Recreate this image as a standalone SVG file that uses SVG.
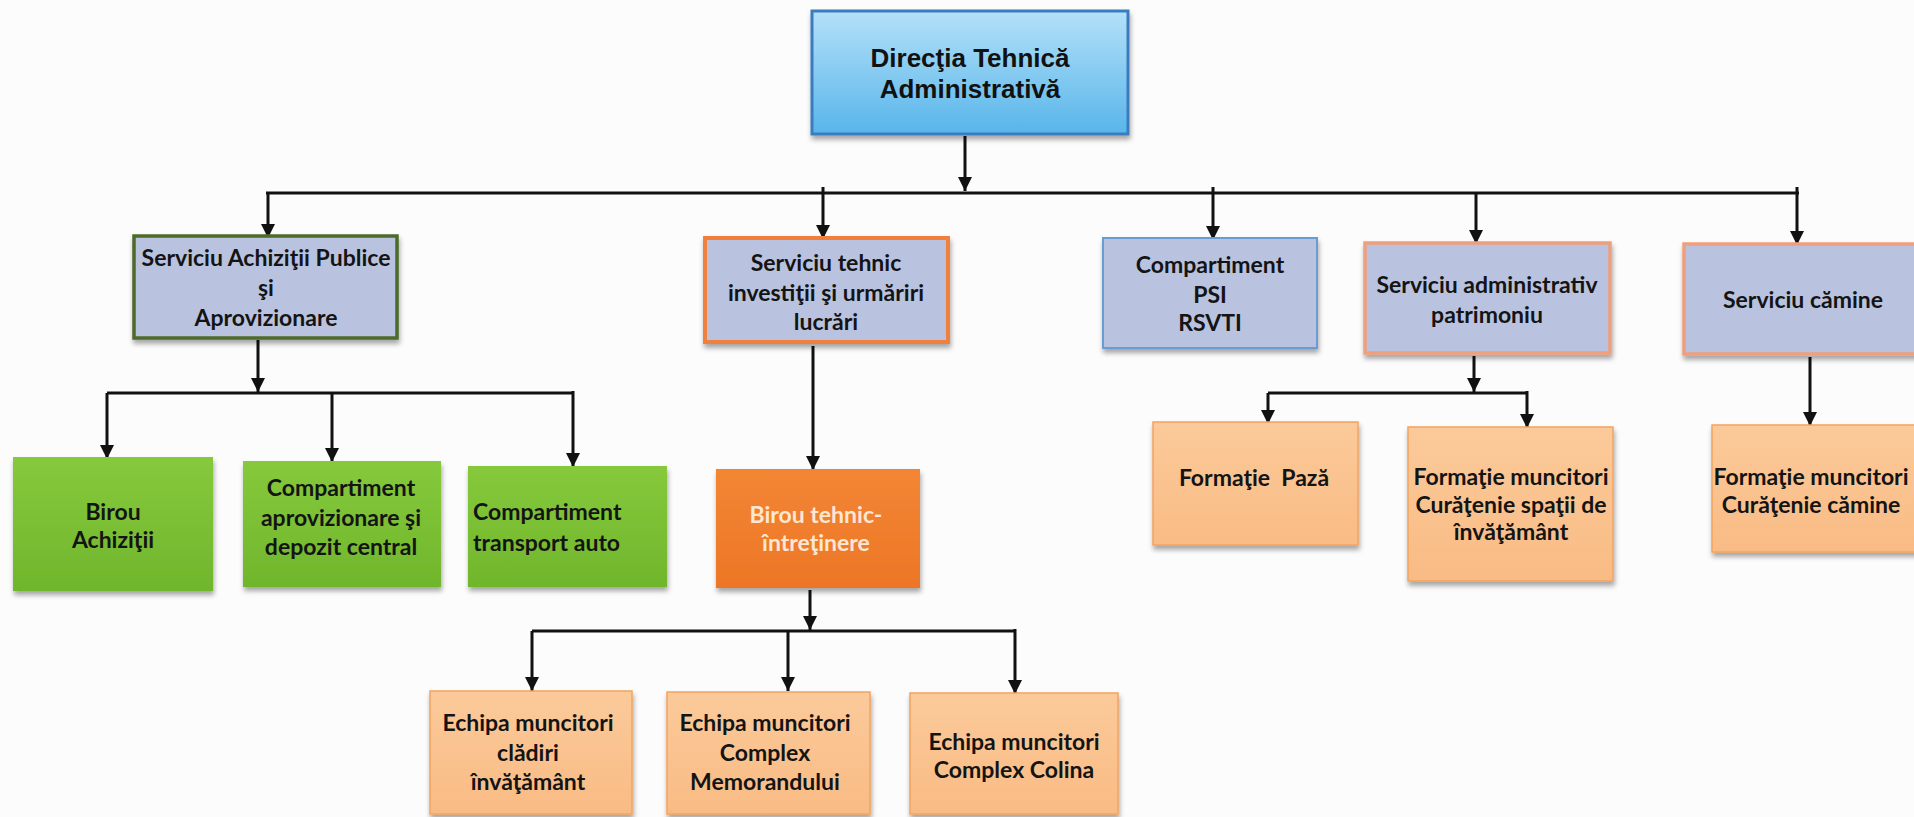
<svg xmlns="http://www.w3.org/2000/svg" width="1914" height="817" viewBox="0 0 1914 817">
<defs>
<style>
.t{font-family:Lato,"Open Sans","Liberation Sans",sans-serif;font-weight:bold;font-size:23px;fill:#141414;text-anchor:middle}
.tl{text-anchor:start}
.tw{fill:#fde6d4}
.top{font-family:"Liberation Sans",Arial,sans-serif;font-weight:bold;font-size:26px;fill:#111;text-anchor:middle}
.l1{fill:#b9c3df}
.g{fill:url(#gg)}
.o{fill:url(#go);stroke:#f4a35e;stroke-width:1.5}
.c{fill:none;stroke:#111;stroke-width:3}
.a{marker-end:url(#ah)}
</style>
<linearGradient id="gt" x1="0" y1="0" x2="0" y2="1">
<stop offset="0" stop-color="#b4e1f8"/>
<stop offset="1" stop-color="#58b5ea"/>
</linearGradient>
<linearGradient id="gg" x1="0" y1="0" x2="0" y2="1">
<stop offset="0" stop-color="#86c93c"/>
<stop offset="1" stop-color="#70b62c"/>
</linearGradient>
<linearGradient id="go" x1="0" y1="0" x2="0" y2="1">
<stop offset="0" stop-color="#fbca9a"/>
<stop offset="1" stop-color="#f9bb84"/>
</linearGradient>
<linearGradient id="gb" x1="0" y1="0" x2="0" y2="1">
<stop offset="0" stop-color="#f38634"/>
<stop offset="1" stop-color="#ec7626"/>
</linearGradient>
<filter id="sh" x="-10%" y="-10%" width="125%" height="135%">
<feDropShadow dx="1" dy="4" stdDeviation="2.5" flood-color="#000" flood-opacity="0.35"/>
</filter>
<marker id="ah" markerUnits="userSpaceOnUse" markerWidth="14" markerHeight="14" refX="14" refY="7" orient="auto">
<path d="M0,0 L14,7 L0,14 z" fill="#111"/>
</marker>
</defs>
<rect width="1914" height="817" fill="#fcfcfc"/>

<g id="connectors">
<path class="c a" d="M965,136 V191"/>
<path class="c" d="M266,193 H1799"/>
<path class="c a" d="M268,193 V238"/>
<path class="c a" d="M823,187 V239"/>
<path class="c a" d="M1213,187 V240"/>
<path class="c a" d="M1476,193 V244"/>
<path class="c a" d="M1797,187 V245"/>
<path class="c a" d="M258,340 V392"/>
<path class="c" d="M107,393 H573"/>
<path class="c a" d="M107,393 V459"/>
<path class="c a" d="M332,393 V462"/>
<path class="c a" d="M573,391 V467"/>
<path class="c a" d="M813,346 V470"/>
<path class="c a" d="M810,590 V630"/>
<path class="c" d="M532,631 H1015"/>
<path class="c a" d="M532,631 V691"/>
<path class="c a" d="M788,631 V691"/>
<path class="c a" d="M1015,629 V694"/>
<path class="c a" d="M1474,356 V392"/>
<path class="c" d="M1268,393 H1527"/>
<path class="c a" d="M1268,393 V424"/>
<path class="c a" d="M1527,391 V428"/>
<path class="c a" d="M1810,357 V426"/>
</g>

<g id="n-directia">
<rect x="812" y="11" width="316" height="123" fill="url(#gt)" stroke="#3b7cc0" stroke-width="3" filter="url(#sh)"/>
<text class="top" x="970" y="67">Direcţia Tehnică</text>
<text class="top" x="970" y="98">Administrativă</text>
</g>

<g id="n-achizitii-publice">
<rect x="134" y="236" width="263" height="102" class="l1" stroke="#4e6a2b" stroke-width="3.5" filter="url(#sh)"/>
<text class="t" x="266" y="266">Serviciu Achiziţii Publice</text>
<text class="t" x="266" y="296">şi</text>
<text class="t" x="266" y="326">Aprovizionare</text>
</g>

<g id="n-serviciu-tehnic">
<rect x="705" y="238" width="243" height="104" class="l1" stroke="#f0803a" stroke-width="4" filter="url(#sh)"/>
<text class="t" x="826" y="271">Serviciu tehnic</text>
<text class="t" x="826" y="301">investiţii şi urmăriri</text>
<text class="t" x="826" y="330">lucrări</text>
</g>

<g id="n-psi">
<rect x="1103" y="238" width="214" height="110" class="l1" stroke="#6b9bd2" stroke-width="2" filter="url(#sh)"/>
<text class="t" x="1210" y="273">Compartiment</text>
<text class="t" x="1210" y="303">PSI</text>
<text class="t" x="1210" y="331">RSVTI</text>
</g>

<g id="n-administrativ">
<rect x="1365" y="243" width="245" height="110" class="l1" stroke="#ef9f7c" stroke-width="3.5" filter="url(#sh)"/>
<text class="t" x="1487" y="293">Serviciu administrativ</text>
<text class="t" x="1487" y="323">patrimoniu</text>
</g>

<g id="n-camine">
<rect x="1684" y="244" width="236" height="110" class="l1" stroke="#ef9f7c" stroke-width="3.5" filter="url(#sh)"/>
<text class="t" x="1803" y="308">Serviciu cămine</text>
</g>

<g id="n-birou-achizitii">
<rect x="13" y="457" width="200" height="134" class="g" filter="url(#sh)"/>
<text class="t" x="113" y="520">Birou</text>
<text class="t" x="113" y="548">Achiziţii</text>
</g>

<g id="n-aprovizionare">
<rect x="243" y="461" width="198" height="126" class="g" filter="url(#sh)"/>
<text class="t" x="341" y="496">Compartiment</text>
<text class="t" x="341" y="526">aprovizionare şi</text>
<text class="t" x="341" y="555">depozit central</text>
</g>

<g id="n-transport">
<rect x="468" y="466" width="199" height="121" class="g" filter="url(#sh)"/>
<text class="t tl" x="473" y="520">Compartiment</text>
<text class="t tl" x="473" y="551">transport auto</text>
</g>

<g id="n-birou-tehnic">
<rect x="716" y="469" width="204" height="119" fill="url(#gb)" filter="url(#sh)"/>
<text class="t tw" x="816" y="523">Birou tehnic-</text>
<text class="t tw" x="816" y="551">întreţinere</text>
</g>

<g id="n-paza">
<rect x="1153" y="422" width="205" height="123" class="o" filter="url(#sh)"/>
<text class="t" x="1254" y="486">Formaţie&#160; Pază</text>
</g>

<g id="n-curatenie-invatamant">
<rect x="1408" y="427" width="205" height="154" class="o" filter="url(#sh)"/>
<text class="t" x="1511" y="485">Formaţie muncitori</text>
<text class="t" x="1511" y="513">Curăţenie spaţii de</text>
<text class="t" x="1511" y="540">învăţământ</text>
</g>

<g id="n-curatenie-camine">
<rect x="1712" y="425" width="208" height="127" class="o" filter="url(#sh)"/>
<text class="t" x="1811" y="485">Formaţie muncitori</text>
<text class="t" x="1811" y="513">Curăţenie cămine</text>
</g>

<g id="n-echipa-cladiri">
<rect x="430" y="691" width="202" height="123" class="o" filter="url(#sh)"/>
<text class="t" x="528" y="731">Echipa muncitori</text>
<text class="t" x="528" y="761">clădiri</text>
<text class="t" x="528" y="790">învăţământ</text>
</g>

<g id="n-echipa-memorandului">
<rect x="667" y="692" width="203" height="122" class="o" filter="url(#sh)"/>
<text class="t" x="765" y="731">Echipa muncitori</text>
<text class="t" x="765" y="761">Complex</text>
<text class="t" x="765" y="790">Memorandului</text>
</g>

<g id="n-echipa-colina">
<rect x="910" y="693" width="208" height="121" class="o" filter="url(#sh)"/>
<text class="t" x="1014" y="750">Echipa muncitori</text>
<text class="t" x="1014" y="778">Complex Colina</text>
</g>
</svg>
